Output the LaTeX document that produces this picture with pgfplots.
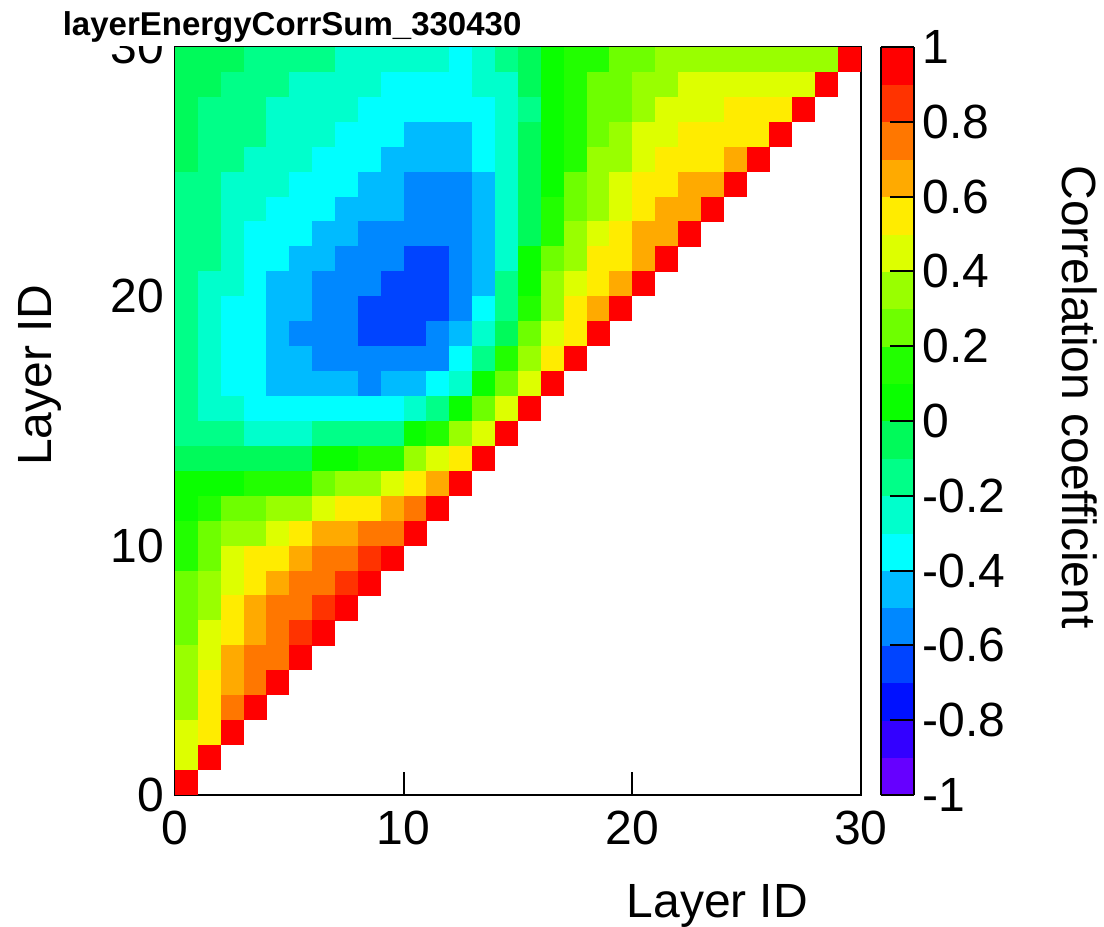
\documentclass[border=0pt]{standalone}
\usepackage{pgfplots}
\usepackage{pgfplotstable}
\pgfplotsset{compat=1.18}
\usepackage{fontspec}
\setmainfont{Liberation Sans}
\newcommand\lbl{\fontsize{12}{14.4}\selectfont}
\pgfdeclareplotmark{cell}{\pgfpathrectangle{\pgfpoint{-2.88pt}{-3.14pt}}{\pgfpoint{5.76pt}{6.28pt}}\pgfusepathqfill}
\pgfplotstableread[row sep=\\]{
i j c\\
0 29 -0.05\\ 1 29 -0.05\\ 2 29 -0.05\\ 3 29 -0.15\\ 4 29 -0.15\\ 5 29 -0.15\\ 6 29 -0.15\\ 7 29 -0.25\\ 8 29 -0.25\\ 9 29 -0.25\\
10 29 -0.25\\ 11 29 -0.25\\ 12 29 -0.35\\ 13 29 -0.25\\ 14 29 -0.15\\ 15 29 -0.05\\ 16 29 0.05\\ 17 29 0.15\\ 18 29 0.15\\ 19 29 0.25\\
20 29 0.25\\ 21 29 0.35\\ 22 29 0.35\\ 23 29 0.35\\ 24 29 0.35\\ 25 29 0.35\\ 26 29 0.35\\ 27 29 0.35\\ 28 29 0.35\\ 29 29 1\\
0 28 -0.05\\ 1 28 -0.05\\ 2 28 -0.15\\ 3 28 -0.15\\ 4 28 -0.15\\ 5 28 -0.25\\ 6 28 -0.25\\ 7 28 -0.25\\ 8 28 -0.25\\ 9 28 -0.35\\
10 28 -0.35\\ 11 28 -0.35\\ 12 28 -0.35\\ 13 28 -0.25\\ 14 28 -0.25\\ 15 28 -0.05\\ 16 28 0.05\\ 17 28 0.15\\ 18 28 0.25\\ 19 28 0.25\\
20 28 0.35\\ 21 28 0.35\\ 22 28 0.45\\ 23 28 0.45\\ 24 28 0.45\\ 25 28 0.45\\ 26 28 0.45\\ 27 28 0.45\\ 28 28 1\\
0 27 -0.05\\ 1 27 -0.15\\ 2 27 -0.15\\ 3 27 -0.15\\ 4 27 -0.25\\ 5 27 -0.25\\ 6 27 -0.25\\ 7 27 -0.25\\ 8 27 -0.35\\ 9 27 -0.35\\
10 27 -0.35\\ 11 27 -0.35\\ 12 27 -0.35\\ 13 27 -0.35\\ 14 27 -0.25\\ 15 27 -0.15\\ 16 27 0.05\\ 17 27 0.15\\ 18 27 0.25\\ 19 27 0.25\\
20 27 0.35\\ 21 27 0.45\\ 22 27 0.45\\ 23 27 0.45\\ 24 27 0.55\\ 25 27 0.55\\ 26 27 0.55\\ 27 27 1\\
0 26 -0.05\\ 1 26 -0.15\\ 2 26 -0.15\\ 3 26 -0.15\\ 4 26 -0.25\\ 5 26 -0.25\\ 6 26 -0.25\\ 7 26 -0.35\\ 8 26 -0.35\\ 9 26 -0.35\\
10 26 -0.45\\ 11 26 -0.45\\ 12 26 -0.45\\ 13 26 -0.35\\ 14 26 -0.25\\ 15 26 -0.05\\ 16 26 0.05\\ 17 26 0.15\\ 18 26 0.25\\ 19 26 0.35\\
20 26 0.45\\ 21 26 0.45\\ 22 26 0.55\\ 23 26 0.55\\ 24 26 0.55\\ 25 26 0.55\\ 26 26 1\\
0 25 -0.05\\ 1 25 -0.15\\ 2 25 -0.15\\ 3 25 -0.25\\ 4 25 -0.25\\ 5 25 -0.25\\ 6 25 -0.35\\ 7 25 -0.35\\ 8 25 -0.35\\ 9 25 -0.45\\
10 25 -0.45\\ 11 25 -0.45\\ 12 25 -0.45\\ 13 25 -0.35\\ 14 25 -0.25\\ 15 25 -0.05\\ 16 25 0.05\\ 17 25 0.15\\ 18 25 0.35\\ 19 25 0.35\\
20 25 0.45\\ 21 25 0.55\\ 22 25 0.55\\ 23 25 0.55\\ 24 25 0.65\\ 25 25 1\\
0 24 -0.15\\ 1 24 -0.15\\ 2 24 -0.25\\ 3 24 -0.25\\ 4 24 -0.25\\ 5 24 -0.35\\ 6 24 -0.35\\ 7 24 -0.35\\ 8 24 -0.45\\ 9 24 -0.45\\
10 24 -0.55\\ 11 24 -0.55\\ 12 24 -0.55\\ 13 24 -0.45\\ 14 24 -0.25\\ 15 24 -0.05\\ 16 24 0.05\\ 17 24 0.25\\ 18 24 0.35\\ 19 24 0.45\\
20 24 0.55\\ 21 24 0.55\\ 22 24 0.65\\ 23 24 0.65\\ 24 24 1\\
0 23 -0.15\\ 1 23 -0.15\\ 2 23 -0.25\\ 3 23 -0.25\\ 4 23 -0.35\\ 5 23 -0.35\\ 6 23 -0.35\\ 7 23 -0.45\\ 8 23 -0.45\\ 9 23 -0.45\\
10 23 -0.55\\ 11 23 -0.55\\ 12 23 -0.55\\ 13 23 -0.45\\ 14 23 -0.25\\ 15 23 -0.05\\ 16 23 0.15\\ 17 23 0.25\\ 18 23 0.35\\ 19 23 0.45\\
20 23 0.55\\ 21 23 0.65\\ 22 23 0.65\\ 23 23 1\\
0 22 -0.15\\ 1 22 -0.15\\ 2 22 -0.25\\ 3 22 -0.35\\ 4 22 -0.35\\ 5 22 -0.35\\ 6 22 -0.45\\ 7 22 -0.45\\ 8 22 -0.55\\ 9 22 -0.55\\
10 22 -0.55\\ 11 22 -0.55\\ 12 22 -0.55\\ 13 22 -0.45\\ 14 22 -0.25\\ 15 22 -0.05\\ 16 22 0.15\\ 17 22 0.35\\ 18 22 0.45\\ 19 22 0.55\\
20 22 0.65\\ 21 22 0.65\\ 22 22 1\\
0 21 -0.15\\ 1 21 -0.15\\ 2 21 -0.25\\ 3 21 -0.35\\ 4 21 -0.35\\ 5 21 -0.45\\ 6 21 -0.45\\ 7 21 -0.55\\ 8 21 -0.55\\ 9 21 -0.55\\
10 21 -0.65\\ 11 21 -0.65\\ 12 21 -0.55\\ 13 21 -0.45\\ 14 21 -0.25\\ 15 21 0.05\\ 16 21 0.25\\ 17 21 0.35\\ 18 21 0.55\\ 19 21 0.55\\
20 21 0.65\\ 21 21 1\\
0 20 -0.15\\ 1 20 -0.25\\ 2 20 -0.25\\ 3 20 -0.35\\ 4 20 -0.45\\ 5 20 -0.45\\ 6 20 -0.55\\ 7 20 -0.55\\ 8 20 -0.55\\ 9 20 -0.65\\
10 20 -0.65\\ 11 20 -0.65\\ 12 20 -0.55\\ 13 20 -0.45\\ 14 20 -0.15\\ 15 20 0.05\\ 16 20 0.35\\ 17 20 0.45\\ 18 20 0.55\\ 19 20 0.65\\
20 20 1\\
0 19 -0.15\\ 1 19 -0.25\\ 2 19 -0.35\\ 3 19 -0.35\\ 4 19 -0.45\\ 5 19 -0.45\\ 6 19 -0.55\\ 7 19 -0.55\\ 8 19 -0.65\\ 9 19 -0.65\\
10 19 -0.65\\ 11 19 -0.65\\ 12 19 -0.55\\ 13 19 -0.35\\ 14 19 -0.15\\ 15 19 0.15\\ 16 19 0.35\\ 17 19 0.55\\ 18 19 0.65\\ 19 19 1\\
0 18 -0.15\\ 1 18 -0.25\\ 2 18 -0.35\\ 3 18 -0.35\\ 4 18 -0.45\\ 5 18 -0.55\\ 6 18 -0.55\\ 7 18 -0.55\\ 8 18 -0.65\\ 9 18 -0.65\\
10 18 -0.65\\ 11 18 -0.55\\ 12 18 -0.45\\ 13 18 -0.25\\ 14 18 -0.05\\ 15 18 0.25\\ 16 18 0.45\\ 17 18 0.55\\ 18 18 1\\
0 17 -0.15\\ 1 17 -0.25\\ 2 17 -0.35\\ 3 17 -0.35\\ 4 17 -0.45\\ 5 17 -0.45\\ 6 17 -0.55\\ 7 17 -0.55\\ 8 17 -0.55\\ 9 17 -0.55\\
10 17 -0.55\\ 11 17 -0.55\\ 12 17 -0.35\\ 13 17 -0.15\\ 14 17 0.15\\ 15 17 0.35\\ 16 17 0.55\\ 17 17 1\\
0 16 -0.15\\ 1 16 -0.25\\ 2 16 -0.35\\ 3 16 -0.35\\ 4 16 -0.45\\ 5 16 -0.45\\ 6 16 -0.45\\ 7 16 -0.45\\ 8 16 -0.55\\ 9 16 -0.45\\
10 16 -0.45\\ 11 16 -0.35\\ 12 16 -0.25\\ 13 16 0.05\\ 14 16 0.25\\ 15 16 0.45\\ 16 16 1\\
0 15 -0.15\\ 1 15 -0.25\\ 2 15 -0.25\\ 3 15 -0.35\\ 4 15 -0.35\\ 5 15 -0.35\\ 6 15 -0.35\\ 7 15 -0.35\\ 8 15 -0.35\\ 9 15 -0.35\\
10 15 -0.25\\ 11 15 -0.15\\ 12 15 0.05\\ 13 15 0.25\\ 14 15 0.45\\ 15 15 1\\
0 14 -0.15\\ 1 14 -0.15\\ 2 14 -0.15\\ 3 14 -0.25\\ 4 14 -0.25\\ 5 14 -0.25\\ 6 14 -0.15\\ 7 14 -0.15\\ 8 14 -0.15\\ 9 14 -0.15\\
10 14 0.05\\ 11 14 0.15\\ 12 14 0.35\\ 13 14 0.45\\ 14 14 1\\
0 13 -0.05\\ 1 13 -0.05\\ 2 13 -0.05\\ 3 13 -0.05\\ 4 13 -0.05\\ 5 13 -0.05\\ 6 13 0.05\\ 7 13 0.05\\ 8 13 0.15\\ 9 13 0.15\\
10 13 0.35\\ 11 13 0.45\\ 12 13 0.55\\ 13 13 1\\
0 12 0.05\\ 1 12 0.05\\ 2 12 0.05\\ 3 12 0.15\\ 4 12 0.15\\ 5 12 0.15\\ 6 12 0.25\\ 7 12 0.35\\ 8 12 0.35\\ 9 12 0.45\\
10 12 0.55\\ 11 12 0.65\\ 12 12 1\\
0 11 0.05\\ 1 11 0.15\\ 2 11 0.25\\ 3 11 0.25\\ 4 11 0.35\\ 5 11 0.35\\ 6 11 0.45\\ 7 11 0.55\\ 8 11 0.55\\ 9 11 0.65\\
10 11 0.75\\ 11 11 1\\
0 10 0.15\\ 1 10 0.25\\ 2 10 0.35\\ 3 10 0.35\\ 4 10 0.45\\ 5 10 0.55\\ 6 10 0.65\\ 7 10 0.65\\ 8 10 0.75\\ 9 10 0.75\\
10 10 1\\
0 9 0.15\\ 1 9 0.25\\ 2 9 0.45\\ 3 9 0.55\\ 4 9 0.55\\ 5 9 0.65\\ 6 9 0.75\\ 7 9 0.75\\ 8 9 0.85\\ 9 9 1\\
0 8 0.25\\ 1 8 0.35\\ 2 8 0.45\\ 3 8 0.55\\ 4 8 0.65\\ 5 8 0.75\\ 6 8 0.75\\ 7 8 0.85\\ 8 8 1\\
0 7 0.25\\ 1 7 0.35\\ 2 7 0.55\\ 3 7 0.65\\ 4 7 0.75\\ 5 7 0.75\\ 6 7 0.85\\ 7 7 1\\
0 6 0.25\\ 1 6 0.45\\ 2 6 0.55\\ 3 6 0.65\\ 4 6 0.75\\ 5 6 0.85\\ 6 6 1\\
0 5 0.35\\ 1 5 0.45\\ 2 5 0.65\\ 3 5 0.75\\ 4 5 0.75\\ 5 5 1\\
0 4 0.35\\ 1 4 0.55\\ 2 4 0.65\\ 3 4 0.75\\ 4 4 1\\
0 3 0.35\\ 1 3 0.55\\ 2 3 0.75\\ 3 3 1\\
0 2 0.45\\ 1 2 0.55\\ 2 2 1\\
0 1 0.45\\ 1 1 1\\
0 0 1\\
}\corrdata
\begin{document}
\begin{tikzpicture}
\useasboundingbox (-43.75pt,-32.75pt) rectangle (232.25pt,198.75pt);
\begin{axis}[
  name=main,
  scale only axis, width=171.5pt, height=187pt,
  xmin=0, xmax=30, ymin=0, ymax=30,
  enlargelimits=false,
  xtick={0,10,20,30}, ytick={0,10,20,30},
  xticklabels={0,10,20,30}, yticklabels={0,10,20,30},
  minor tick num=0,
  tick align=inside, tick pos=left, major tick length=5.75pt,
  axis on top,
  every tick/.style={black, line width=0.5pt},
  axis line style={line width=0.5pt},
  ticklabel style={font=\lbl},
  xticklabel style={anchor=north, inner sep=0pt, yshift=-3.75pt},
  yticklabel style={anchor=east, inner sep=0pt, xshift=-2.5pt},
  xlabel={Layer ID}, ylabel={Layer ID},
  xlabel style={font=\lbl, at={(axis description cs:0.924,-0.1644)}, anchor=base east, inner sep=0pt},
  ylabel style={font=\lbl, at={(axis description cs:-0.1793,0.5615)}, anchor=base, inner sep=0pt},
  title={layerEnergyCorrSum\_330430},
  title style={font=\bfseries\fontsize{8.25}{10}\selectfont, at={(axis description cs:-0.1749,1.0151)}, anchor=base west, yshift=-6pt, fill=white, inner xsep=1.75pt, inner ysep=0.75pt},
  colormap={root}{rgb255=(102,0,255) rgb255=(51,0,255) rgb255=(0,17,255) rgb255=(0,68,255) rgb255=(0,136,255) rgb255=(0,187,255) rgb255=(0,255,255) rgb255=(0,255,204) rgb255=(0,255,136) rgb255=(0,250,90) rgb255=(10,255,0) rgb255=(34,255,0) rgb255=(110,255,0) rgb255=(153,255,0) rgb255=(221,255,0) rgb255=(255,236,0) rgb255=(255,170,0) rgb255=(255,119,0) rgb255=(255,51,0) rgb255=(255,0,0)},
  colormap access=piecewise constant,
  point meta min=-1, point meta max=1,
  colorbar right,
  colorbar style={
    width=8.25pt, height=187pt,
    at={(parent axis.north east)}, anchor=north west, xshift=-3.5pt,
    ytick={-1,-0.8,-0.6,-0.4,-0.2,0,0.2,0.4,0.6,0.8,1},
    yticklabels={-1,-0.8,-0.6,-0.4,-0.2,0,0.2,0.4,0.6,0.8,1},
    ytick pos=right, yticklabel pos=right,
    tick align=inside, major tick length=6pt, minor tick num=0,
    every tick/.style={black, line width=0.5pt},
    axis line style={line width=0.5pt},
    yticklabel style={font=\lbl, anchor=west, inner sep=0pt, xshift=2pt},
    ylabel={Correlation coefficient},
    ylabel style={font=\lbl, at={(axis description cs:5.485,0.532)}, anchor=base, rotate=180, inner sep=0pt},
  },
]
\addplot[scatter, only marks, mark=cell, point meta=explicit]
  table[x expr=\thisrow{i}+0.5, y expr=\thisrow{j}+0.5, meta=c] {\corrdata};
\end{axis}
\end{tikzpicture}
\end{document}
